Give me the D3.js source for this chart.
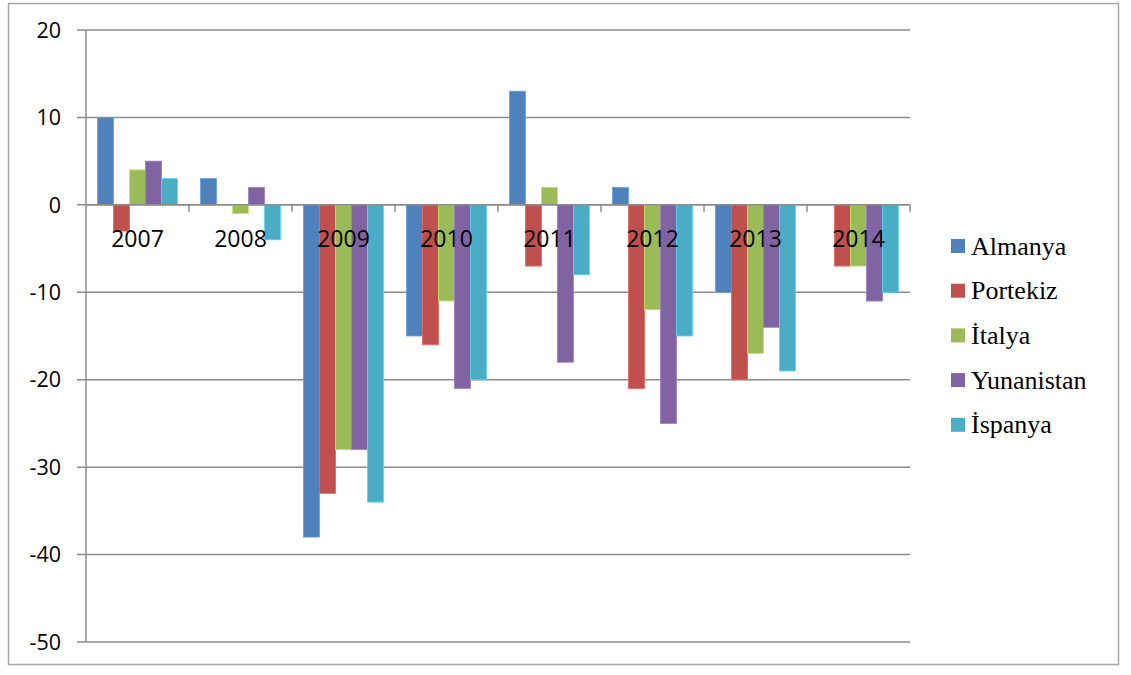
<!DOCTYPE html>
<html>
<head>
<meta charset="utf-8">
<script src="https://cdn.jsdelivr.net/npm/d3@7"></script>
<style>
  body { margin: 0; background: #fff; }
  svg { display: block; }
  .tick-label { font-family: "Open Sans", sans-serif; font-size: 21.5px; fill: #000; }
  .year { font-family: "Open Sans", sans-serif; font-size: 23px; fill: #000; }
  .legend-text { font-family: "Liberation Serif", "Times New Roman", serif; font-size: 26px; fill: #000; }
</style>
</head>
<body>
<svg width="1131" height="675"></svg>
<script>
// data
const years = ["2007", "2008", "2009", "2010", "2011", "2012", "2013", "2014"]
const countries = ["Almanya", "Portekiz", "İtalya", "Yunanistan", "İspanya"]
const colors = ["#4F81BD", "#C0504D", "#9BBB59", "#8064A2", "#4BACC6"]
const almanya = [10, 3, -38, -15, 13, 2, -10, 0]
const portekiz = [-3, 0, -33, -16, -7, -21, -20, -7]
const italya = [4, -1, -28, -11, 2, -12, -17, -7]
const yunanistan = [5, 2, -28, -21, -18, -25, -14, -11]
const ispanya = [3, -4, -34, -20, -8, -15, -19, -10]
const yTicks = [20, 10, 0, -10, -20, -30, -40, -50]

const seriesValues = [almanya, portekiz, italya, yunanistan, ispanya]

const svg = d3.select("svg")

// outer frame
svg.append("rect")
  .attr("x", 8.5)
  .attr("y", 3.5)
  .attr("width", 1110)
  .attr("height", 661)
  .attr("fill", "none")
  .attr("stroke", "#a6a6a6")
  .attr("stroke-width", 1.5)

// scales
const x0 = d3.scaleBand()
  .domain(years)
  .range([86, 910])

const x1 = d3.scaleBand()
  .domain(countries)
  .range([0, x0.bandwidth()])
  .paddingOuter(0.72)

const y = d3.scaleLinear()
  .domain([-50, 20])
  .range([642, 30])

const gridColor = "#8c8c8c"

// horizontal gridlines + y ticks
svg.append("g")
  .selectAll("line")
  .data(yTicks)
  .enter()
  .append("line")
  .attr("x1", 77)
  .attr("x2", 910)
  .attr("y1", d => y(d))
  .attr("y2", d => y(d))
  .attr("stroke", gridColor)
  .attr("stroke-width", 1.5)

// y axis line
svg.append("line")
  .attr("x1", 86)
  .attr("x2", 86)
  .attr("y1", y(20))
  .attr("y2", y(-50))
  .attr("stroke", gridColor)
  .attr("stroke-width", 1.5)

svg.append("g")
  .selectAll("text")
  .data(yTicks)
  .enter()
  .append("text")
  .attr("class", "tick-label")
  .attr("x", 61)
  .attr("y", d => y(d))
  .attr("dy", "0.36em")
  .attr("text-anchor", "end")
  .text(d => d)

// bars
const rows = years.map((yr, i) => ({ year: yr, vals: countries.map((c, j) => ({ country: c, value: seriesValues[j][i], color: colors[j] })) }))

const groups = svg.selectAll("g.year-group")
  .data(rows)
  .enter()
  .append("g")
  .attr("class", "year-group")
  .attr("transform", d => `translate(${x0(d.year)},0)`)

groups.selectAll("rect")
  .data(d => d.vals.filter(v => v.value !== 0))
  .enter()
  .append("rect")
  .attr("x", d => x1(d.country))
  .attr("width", x1.bandwidth())
  .attr("y", d => y(Math.max(0, d.value)))
  .attr("height", d => Math.abs(y(d.value) - y(0)))
  .attr("fill", d => d.color)
  .attr("stroke", d => d3.color(d.color).brighter(0.6))
  .attr("stroke-width", 0.8)

// zero axis line on top of bars
svg.append("line")
  .attr("x1", 86)
  .attr("x2", 910)
  .attr("y1", y(0))
  .attr("y2", y(0))
  .attr("stroke", gridColor)
  .attr("stroke-width", 1.5)

// category tick marks
svg.append("g")
  .selectAll("line")
  .data(years.slice(1).concat(["end"]))
  .enter()
  .append("line")
  .attr("x1", (d, i) => x0(years[0]) + (i + 1) * x0.bandwidth())
  .attr("x2", (d, i) => x0(years[0]) + (i + 1) * x0.bandwidth())
  .attr("y1", y(0))
  .attr("y2", y(0) + 7)
  .attr("stroke", gridColor)
  .attr("stroke-width", 1.5)

// year labels
svg.append("g")
  .selectAll("text")
  .data(years)
  .enter()
  .append("text")
  .attr("class", "year")
  .attr("x", d => x0(d) + x0.bandwidth() / 2)
  .attr("y", y(0) + 34)
  .attr("dy", "0.36em")
  .attr("text-anchor", "middle")
  .text(d => d)

// legend
const legend = svg.selectAll("g.legend")
  .data(countries)
  .enter()
  .append("g")
  .attr("class", "legend")
  .attr("transform", (d, i) => `translate(951,${246 + i * 44.7})`)

legend.append("rect")
  .attr("x", 0)
  .attr("y", -7)
  .attr("width", 14)
  .attr("height", 14)
  .attr("fill", (d, i) => colors[i])

legend.append("text")
  .attr("class", "legend-text")
  .attr("x", 20)
  .attr("y", 0)
  .attr("dy", "0.33em")
  .text(d => d)
</script>
</body>
</html>
